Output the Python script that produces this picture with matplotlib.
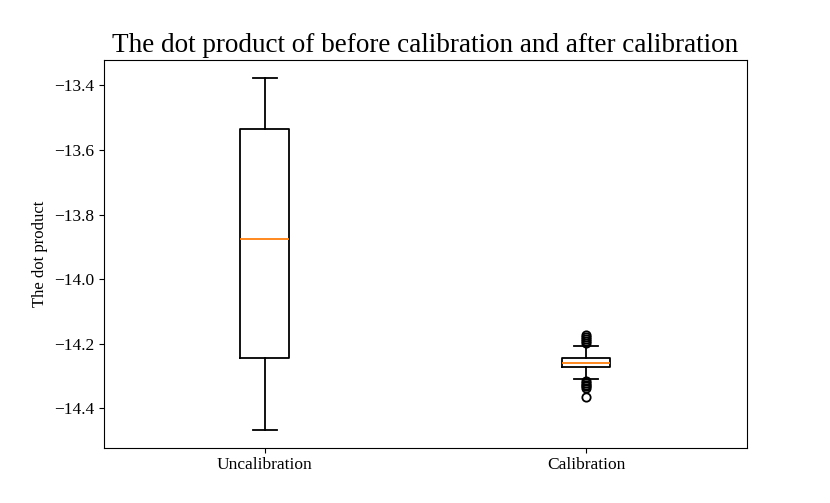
import matplotlib
matplotlib.use("Agg")
import matplotlib.pyplot as plt

plt.rcParams['font.family'] = ['Liberation Serif', 'DejaVu Serif']

# Box summary values
labels = ['Uncalibration', 'Calibration']
medians = [-13.875, -14.259]
q1 = [-14.243, -14.271]
q3 = [-13.534, -14.243]
whisker_low = [-14.467, -14.308]
whisker_high = [-13.377, -14.207]
fliers_uncal = []
fliers_cal = [-14.172, -14.178, -14.184, -14.19, -14.196,
              -14.314, -14.32, -14.326, -14.332, -14.338, -14.364]

stats = []
for i, name in enumerate(labels):
    stats.append({
        'label': name,
        'med': medians[i],
        'q1': q1[i],
        'q3': q3[i],
        'whislo': whisker_low[i],
        'whishi': whisker_high[i],
        'fliers': [fliers_uncal, fliers_cal][i],
    })

fig, ax = plt.subplots(figsize=(8.3, 5.03), dpi=100)
fig.subplots_adjust(left=0.125, right=0.9, top=0.88, bottom=0.11)

lw = 1.3
ax.bxp(stats, positions=[1, 2], widths=0.15,
       boxprops=dict(linewidth=lw),
       whiskerprops=dict(linewidth=lw),
       capprops=dict(linewidth=lw),
       medianprops=dict(linewidth=lw, color='C1'),
       flierprops=dict(markeredgewidth=lw))

ax.set_title("The dot product of before calibration and after calibration", fontsize=19.5)
ax.set_ylabel("The dot product", fontsize=12)
ax.tick_params(axis='y', labelsize=12.5)
ax.tick_params(axis='x', labelsize=12.5)

plt.savefig("out.png", dpi=100)
